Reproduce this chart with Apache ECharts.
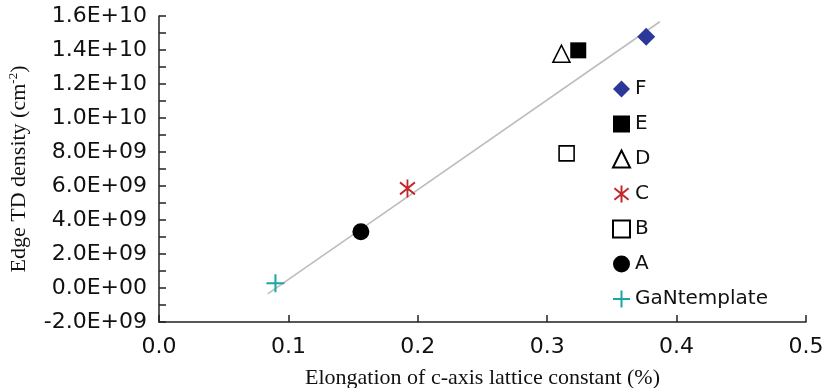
<!DOCTYPE html>
<html>
<head>
<meta charset="utf-8">
<script src="https://cdn.jsdelivr.net/npm/echarts@6/dist/echarts.min.js"></script>
<style>
  html, body { margin: 0; padding: 0; background: #fff; }
  #chart { width: 824px; height: 388px; }
</style>
</head>
<body>
<div id="chart"></div>
<script>
// samples, in legend order
const sampleNames = ["F", "E", "D", "C", "B", "A", "GaNtemplate"];
const elongation = [0.3765, 0.324, 0.311, 0.192, 0.315, 0.156, 0.090];
const edgeTD = [1.478e10, 1.398e10, 1.378e10, 5.86e9, 7.92e9, 3.31e9, 2.8e8];

// fitted trend line end points
const trendX = [0.084, 0.387];
const trendY = [-0.35e9, 1.566e10];

const yTickValues = [-2e9, 0, 2e9, 4e9, 6e9, 8e9, 1e10, 1.2e10, 1.4e10, 1.6e10];
const yTickLabels = ["-2.0E+09", "0.0E+00", "2.0E+09", "4.0E+09", "6.0E+09",
  "8.0E+09", "1.0E+10", "1.2E+10", "1.4E+10", "1.6E+10"];
const xTickLabels = ["0.0", "0.1", "0.2", "0.3", "0.4", "0.5"];

const markers = {
  F: { symbol: "diamond", size: 18, color: "#2B3899", border: "#2B3899", bw: 0 },
  E: { symbol: "rect", size: 16, color: "#000", border: "#000", bw: 0 },
  D: { symbol: "triangle", size: 17, color: "#fff", border: "#000", bw: 1.6 },
  C: { symbol: "path://M5,0L5,12M0,2L10,10M10,2L0,10", size: [15, 18], color: "#C1272D", border: "#C1272D", bw: 2 },
  B: { symbol: "rect", size: 15, color: "#fff", border: "#000", bw: 1.6 },
  A: { symbol: "circle", size: 17, color: "#000", border: "#000", bw: 0 },
  GaNtemplate: { symbol: "path://M0,5L10,5M5,0L5,10", size: 18, color: "#1AA6A3", border: "#1AA6A3", bw: 2 },
};

const chart = echarts.init(document.getElementById("chart"));

const scatterSeries = sampleNames.map((name, i) => {
  const m = markers[name];
  return {
    name: name,
    type: "scatter",
    data: [[elongation[i], edgeTD[i]]],
    symbol: m.symbol,
    symbolSize: m.size,
    itemStyle: { color: m.color, borderColor: m.border, borderWidth: m.bw, opacity: 1 },
    z: 3,
  };
});

chart.setOption({
  animation: false,
  backgroundColor: "#fff",
  grid: { left: 159, right: 18, top: 16, bottom: 66, containLabel: false, outerBoundsMode: "none" },
  legend: {
    data: sampleNames,
    orient: "vertical",
    left: 612,
    top: 79,
    padding: 0,
    itemWidth: 17,
    itemHeight: 17,
    itemGap: 15,
    selectedMode: false,
    textStyle: { fontFamily: "DejaVu Sans", fontSize: 20, lineHeight: 20, color: "#111" },
  },
  xAxis: {
    type: "value",
    min: 0,
    max: 0.5,
    interval: 0.1,
    name: "Elongation of c-axis lattice constant (%)",
    nameLocation: "middle",
    nameGap: 45,
    nameTextStyle: { fontFamily: "Liberation Serif", fontSize: 22, color: "#111" },
    axisLine: { show: true, onZero: false, lineStyle: { color: "#222", width: 1.5 } },
    axisTick: { show: true, inside: true, length: 7, lineStyle: { color: "#222", width: 1.5 } },
    axisLabel: {
      margin: 14,
      fontFamily: "DejaVu Sans",
      fontSize: 22,
      color: "#111",
      formatter: (v) => xTickLabels[Math.round(v * 10)],
    },
    splitLine: { show: false },
  },
  yAxis: {
    type: "value",
    min: -2e9,
    max: 1.6e10,
    interval: 2e9,
    name: "{a|Edge TD density (cm}{s|-2}{a|)}",
    nameLocation: "middle",
    nameGap: 128,
    nameTextStyle: {
      fontFamily: "Liberation Serif",
      color: "#111",
      rich: {
        a: { fontFamily: "Liberation Serif", fontSize: 22, lineHeight: 24, color: "#111" },
        s: { fontFamily: "Liberation Serif", fontSize: 13, lineHeight: 13, verticalAlign: "top", color: "#111" },
      },
    },
    axisLine: { show: true, onZero: false, lineStyle: { color: "#222", width: 1.5 } },
    axisTick: { show: true, inside: true, length: 7, lineStyle: { color: "#222", width: 1.5 } },
    minorTick: { show: true, splitNumber: 2, length: 7, lineStyle: { color: "#222", width: 1.5 } },
    axisLabel: {
      margin: 12,
      fontFamily: "DejaVu Sans",
      fontSize: 22,
      color: "#111",
      formatter: (v) => {
        const k = yTickValues.findIndex((t) => Math.abs(t - v) < 1e6);
        return k >= 0 ? yTickLabels[k] : "";
      },
    },
    splitLine: { show: false },
  },
  series: [
    {
      name: "trend",
      type: "line",
      data: trendX.map((x, i) => [x, trendY[i]]),
      symbol: "none",
      silent: true,
      lineStyle: { color: "#BDBDBD", width: 1.6 },
      z: 1,
    },
    ...scatterSeries,
  ],
});
</script>
</body>
</html>
